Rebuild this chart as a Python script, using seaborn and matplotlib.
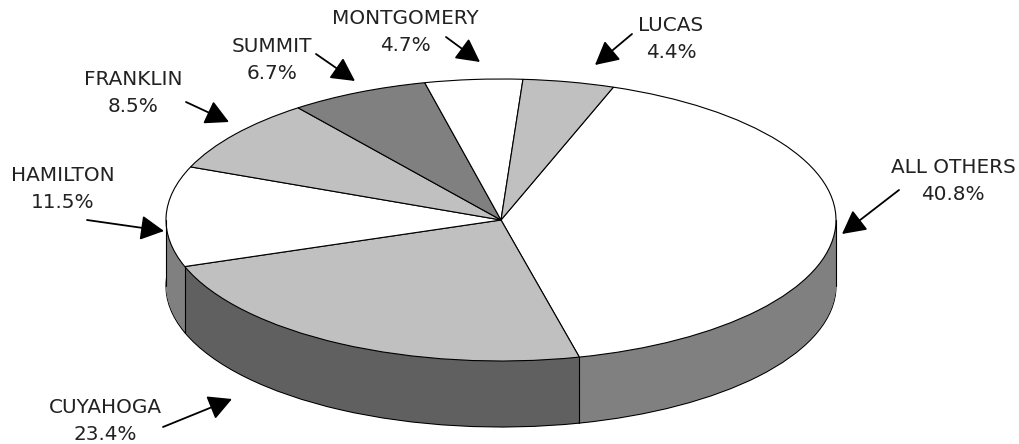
import numpy as np
import matplotlib
matplotlib.use('Agg')
import matplotlib.pyplot as plt
import seaborn as sns

counties = ['ALL OTHERS', 'CUYAHOGA', 'HAMILTON', 'FRANKLIN', 'SUMMIT', 'MONTGOMERY', 'LUCAS']
shares = [40.8, 23.4, 11.5, 8.5, 6.7, 4.7, 4.4]
top_colors = ['#FFFFFF', '#C0C0C0', '#FFFFFF', '#C0C0C0', '#808080', '#FFFFFF', '#C0C0C0']
side_colors = ['#808080', '#606060', '#808080', '#606060', '#404040', '#808080', '#606060']

# label centre and arrow tail/head, in pixels of the 1019x444 picture
label_pos = [(953, 181), (105, 421), (63, 189), (133, 93), (272, 60), (405, 32), (671, 39)]
arrow_tail = [(899, 190), (163, 427), (87, 220), (186, 102), (316, 54), (446, 37), (632, 34)]
arrow_head = [(842, 234), (232, 399), (164, 231), (229, 122), (355, 81), (480, 62), (595, 65)]

sns.set_theme(style='white')
plt.rcParams['font.family'] = ['DejaVu Sans']

cx, cy, rx, ry, depth = 501, 220, 335, 141, 66
start = 70.4


def to_data(p):
    return (p[0] - cx) / rx, (cy - p[1]) / ry


fig = plt.figure(figsize=(10.19, 4.44), dpi=100)
ax = fig.add_axes([0, 0, 1, 1])

# side wall: stacked copies of the pie, then the top face
dy = depth / ry
ax.pie(shares, colors=side_colors, startangle=start, counterclock=False, center=(0, -dy),
       wedgeprops={'edgecolor': 'black', 'linewidth': 0.8})
for off in np.linspace(dy, 0, 70)[1:-1]:
    ax.pie(shares, colors=side_colors, startangle=start, counterclock=False, center=(0, -off),
           wedgeprops={'linewidth': 0})

ends = start - np.cumsum(shares) * 3.6
for a in ends:
    x, y = np.cos(np.radians(a)), np.sin(np.radians(a))
    if y < 0:
        ax.plot([x, x], [y, y - dy], color='black', lw=0.8)
for x in (-1, 1):
    ax.plot([x, x], [0, -dy], color='black', lw=0.8)

ax.pie(shares, colors=top_colors, startangle=start, counterclock=False,
       wedgeprops={'edgecolor': 'black', 'linewidth': 0.8})

ax.set_aspect('auto')
ax.set_xlim(-cx / rx, (1019 - cx) / rx)
ax.set_ylim((cy - 444) / ry, cy / ry)

for name, val, lp, tail, head in zip(counties, shares, label_pos, arrow_tail, arrow_head):
    ax.text(*to_data(lp), f'{name}\n{val}%', ha='center', va='center', fontsize=14.4, color='#222222', linespacing=1.5)
    ax.annotate('', xy=to_data(head), xytext=to_data(tail),
                arrowprops=dict(arrowstyle='-|>,head_length=0.72,head_width=0.38', color='black', lw=1.3,
                                mutation_scale=20, shrinkA=0, shrinkB=0))

fig.savefig('out.png', dpi=100)
